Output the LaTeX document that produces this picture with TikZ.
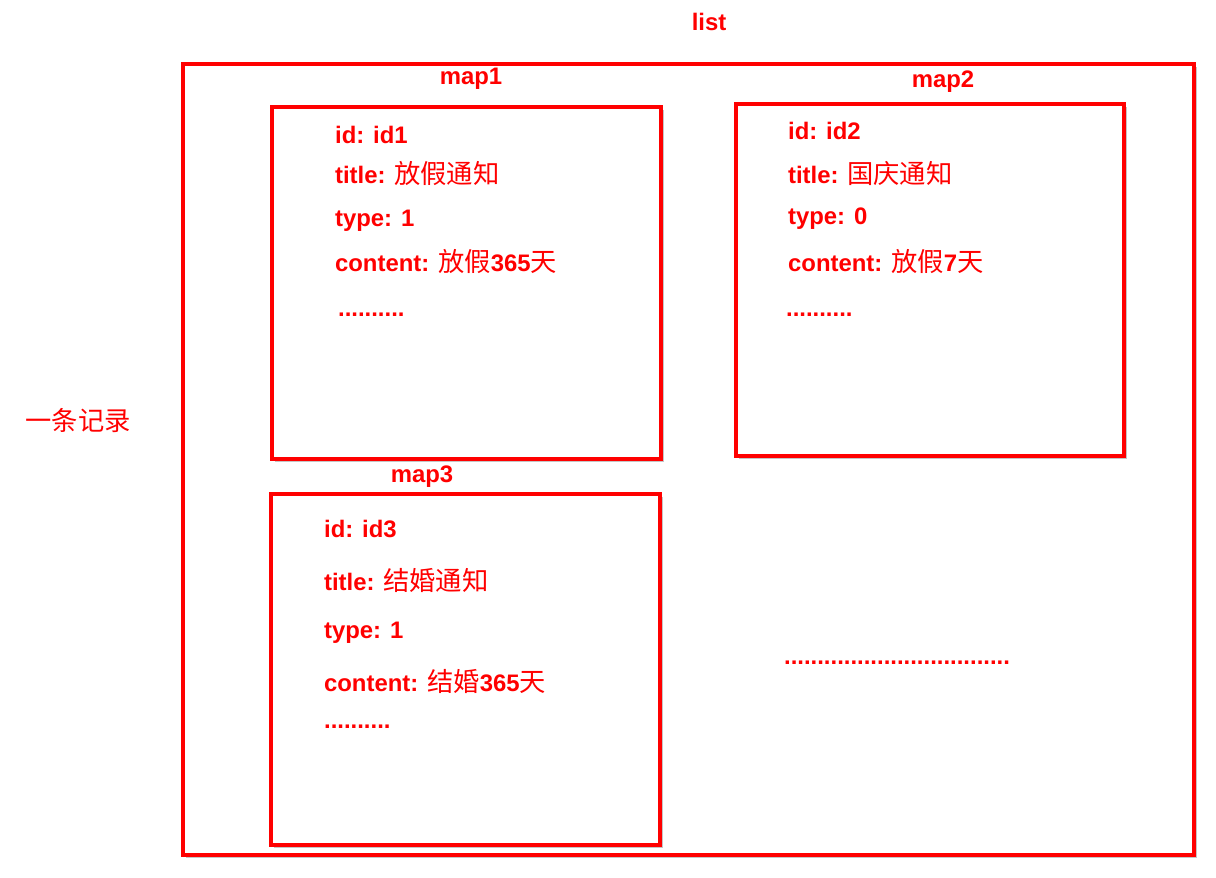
\documentclass[tikz,border=0pt]{standalone}
\usepackage{fontspec}
\setmainfont{Liberation Sans}
\newfontfamily\cjk[Scale=1.1]{Noto Sans CJK SC}
\usetikzlibrary{shadows}
\definecolor{boxred}{rgb}{1,0,0}
\newcommand{\zh}[1]{{\cjk\mdseries #1}}

\begin{document}
\begin{tikzpicture}[
    x=0.02cm, y=-0.02cm,
    box/.style={
        draw=boxred, line width=2pt, fill=white,
        drop shadow={opacity=0.45, shadow xshift=1.6pt, shadow yshift=-1.8pt}
    },
    %% all texts are red bold, about 24px high
    lbl/.style={
        font=\fontsize{13.6}{16}\selectfont\bfseries,
        text=boxred, inner sep=1pt
    },
    field/.style={lbl, anchor=west}
]
\useasboundingbox (0,0) rectangle (1216,878);

%% ── Boxes ────────────────────────────────────────────────────────────────────
\draw[box] (183,64)  rectangle (1194,855);
\draw[box] (272,107) rectangle (661,459);
\draw[box] (736,104) rectangle (1124,456);
\draw[box] (271,494) rectangle (660,845);

%% ── Titles ───────────────────────────────────────────────────────────────────
\node[lbl] (listlbl) at (709,22)  {list};
\node[lbl] (map1lbl) at (471,79)  {map1};
\node[lbl] (map2lbl) at (943,82)  {map2};
\node[lbl] (map3lbl) at (422,477) {map3};
\node[lbl] (record)  at (78,421)  {\zh{一条记录}};

%% ── map1 ─────────────────────────────────────────────────────────────────────
\node[field] (id1)      at (333,135) {id: id1};
\node[field] (title1)   at (333,174) {title: \zh{放假通知}};
\node[field] (type1)    at (333,221) {type: 1};
\node[field] (content1) at (333,262) {content: \zh{放假}365\zh{天}};
\node[field] (more1)    at (336,315) {..........};

%% ── map2 ─────────────────────────────────────────────────────────────────────
\node[field] (id2)      at (786,131) {id: id2};
\node[field] (title2)   at (786,173) {title: \zh{国庆通知}};
\node[field] (type2)    at (786,219) {type: 0};
\node[field] (content2) at (786,262) {content: \zh{放假}7\zh{天}};
\node[field] (more2)    at (784,315) {..........};

%% ── map3 ─────────────────────────────────────────────────────────────────────
\node[field] (id3)      at (322,529) {id: id3};
\node[field] (title3)   at (322,580) {title: \zh{结婚通知}};
\node[field] (type3)    at (322,633) {type: 1};
\node[field] (content3) at (322,681) {content: \zh{结婚}365\zh{天}};
\node[field] (more3)    at (322,727) {..........};

%% ── further maps ─────────────────────────────────────────────────────────────
\node[field] (more) at (782,663) {..................................};

\end{tikzpicture}
\end{document}
